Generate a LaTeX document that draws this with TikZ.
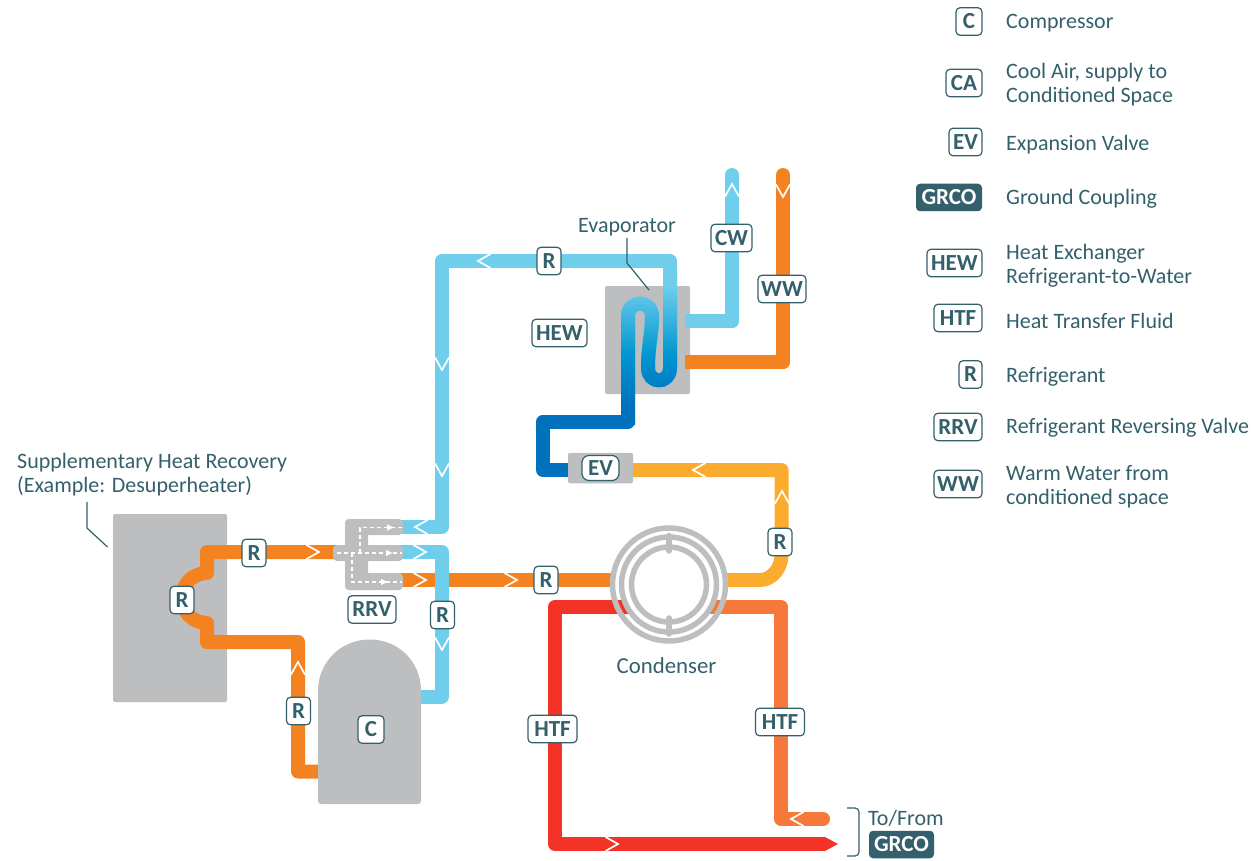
\documentclass[tikz,border=0pt]{standalone}
\usepackage{fontspec}
\setmainfont{Carlito}
\definecolor{teal}{HTML}{33606B}
\definecolor{grey}{HTML}{BCBEC0}
\definecolor{lblue}{HTML}{6FCEEC}
\definecolor{mblue}{HTML}{0095D0}
\definecolor{dblue}{HTML}{0071BC}
\definecolor{orng}{HTML}{F58220}
\definecolor{yel}{HTML}{FBAB2D}
\definecolor{red1}{HTML}{F23325}
\definecolor{red2}{HTML}{F6783B}
\tikzset{
  pipe/.style={line width=14pt,line join=round},
  lbl/.style={text=teal,font=\fontsize{22}{24}\selectfont,inner sep=0pt,align=left,yshift=-1pt},
  tag/.style={draw=teal,line width=1.2pt,fill=white,rounded corners=4pt,inner sep=0pt,text=teal,
    font=\fontsize{23}{24}\selectfont\bfseries,minimum height=27.5pt,minimum width=#1},
  tag/.default=24pt,
  darktag/.style={fill=teal,rounded corners=4pt,inner sep=0pt,text=white,
    font=\fontsize{23}{24}\selectfont\bfseries,minimum height=27.5pt,minimum width=#1},
  leader/.style={draw=teal,line width=1.2pt},
  dash wh/.style={white,line width=1.6pt,dash pattern=on 4pt off 3pt},
}
\newcommand{\chev}[3]{\draw[white,line width=1.7pt,miter limit=10,shift={(#1,#2)},rotate=#3] (12.5,-7) -- (0,0) -- (12.5,7);}
\newcommand{\ddtip}[2]{\fill[white] (#1,#2-3.2) -- (#1+6.5,#2) -- (#1,#2+3.2) -- cycle;}
\newcommand{\coilpath}{(c0) -- (c1) .. controls (628,299.5) and (652,299.5) .. (c2) .. controls (652,335) and (648,345) .. (c3) .. controls (648,384.5) and (670,384.5) .. (c4) -- (c5)}
\begin{document}
\begin{tikzpicture}[x=1pt,y=-1pt]
\useasboundingbox (0,0) rectangle (1255,861);
% coordinates
\coordinate (c0) at (628,430); \coordinate (c1) at (628,316); \coordinate (c2) at (652,316);
\coordinate (c3) at (648,368); \coordinate (c4) at (670,368); \coordinate (c5) at (670,270);
\coordinate (topR) at (670,261); \coordinate (topL) at (442,261); \coordinate (rrvT) at (442,527);
\coordinate (rrvTe) at (400,527); \coordinate (rrvM) at (442,552); \coordinate (rrvMe) at (400,552);
\coordinate (rrvBe) at (400,580); \coordinate (compB) at (442,696.5); \coordinate (compBe) at (415,696.5);
\coordinate (cw0) at (685,321); \coordinate (cw1) at (732,321); \coordinate (cw2) at (732,175);
\coordinate (ww0) at (685,362); \coordinate (ww1) at (783,362); \coordinate (ww2) at (783,175);
\coordinate (d0) at (628,400); \coordinate (d1) at (628,421.5); \coordinate (d2) at (543,421.5);
\coordinate (d3) at (543,470); \coordinate (d4) at (572,470);
\coordinate (y0) at (630,470); \coordinate (y1) at (781.5,470); \coordinate (y2) at (781.5,555);
\coordinate (y3) at (760,580); \coordinate (y4) at (724,580);
\coordinate (o0) at (612,580);
\coordinate (s0) at (350,552); \coordinate (s1) at (207,552); \coordinate (s2) at (207,573);
\coordinate (s3) at (182,598); \coordinate (s4) at (207,623); \coordinate (s5) at (207,642);
\coordinate (s6) at (298,642); \coordinate (s7) at (298,771.5); \coordinate (s8) at (325,771.5);
\coordinate (r0) at (630,607); \coordinate (r1) at (555,607); \coordinate (r2) at (555,844);
\coordinate (r3) at (825,844); \coordinate (rtip) at (838,844);
\coordinate (h0) at (708,607); \coordinate (h1) at (781,607); \coordinate (h2) at (781,819);
\coordinate (h3) at (823,819);
\coordinate (cond) at (669,584.5);
% grey equipment
\node[fill=grey,rounded corners=2pt,minimum width=114pt,minimum height=188pt,inner sep=0pt] (supp) at (170,608) {};
\node[fill=grey,rounded corners=2pt,minimum width=85pt,minimum height=108pt,inner sep=0pt] (hewbox) at (647.5,340) {};
% pipes: light blue, orange, yellow
\draw[pipe,orng] (ww0) -- (ww1) -- (ww2);
\draw[pipe,orng,line cap=round] (ww1) -- (ww2);
\draw[pipe,lblue] (cw0) -- (cw1) -- (cw2);
\draw[pipe,lblue,line cap=round] (cw1) -- (cw2);
\draw[pipe,orng] (s0) -- (s1) -- (s2) .. controls (193,573) and (182,584) .. (s3) .. controls (182,612) and (193,623) .. (s4) -- (s5) -- (s6) -- (s7) -- (s8);
\draw[pipe,orng] (rrvBe) -- (o0);
\draw[pipe,yel] (y0) -- (y1) -- (y2) .. controls (781.5,568) and (772,580) .. (y3) -- (y4);
\draw[pipe,lblue] (c5) -- (topR) -- (topL) -- (rrvT) -- (rrvTe);
\draw[pipe,lblue] (rrvMe) -- (rrvM) -- (compB) -- (compBe);
\draw[pipe,dblue] (d0) -- (d1) -- (d2) -- (d3) -- (d4);
% coil with a vertical colour run
\foreach \i in {0,...,77}{
  \pgfmathsetmacro{\yy}{268+2*\i}
  \pgfmathsetmacro{\pa}{min(100,max(0,(\yy-285)/(355-285)*100))}
  \pgfmathsetmacro{\pb}{min(100,max(0,(\yy-355)/(405-355)*100))}
  \colorlet{sl}{dblue!\pb!mblue}
  \colorlet{sl}{sl!\pa!lblue}
  \begin{scope}
    \clip (600,\yy) rectangle (700,\yy+2.7);
    \draw[pipe,sl] \coilpath;
  \end{scope}
}
% heat transfer loop
\draw[pipe,red1] (r0) -- (r1) -- (r2) -- (r3);
\fill[red1] (825,837) -- (rtip) -- (825,851) -- cycle;
\draw[pipe,red2] (h0) -- (h1) -- (h2) -- (h3);
\fill[red2] (h3) circle (7);
% condenser
\fill[white] (cond) circle (47.5);
\draw[grey,line width=5.5pt] (cond) circle (56.5);
\draw[grey,line width=5.5pt] (cond) circle (47.5);
\draw[grey,line width=5.5pt] (cond) circle (37.5);
\draw[grey,line width=5.5pt,line cap=round] (669,535.5) -- (669,551);
\draw[grey,line width=5.5pt,line cap=round] (669,618) -- (669,634);
% compressor
\fill[grey] (318,691) {[rounded corners=3pt] -- (318,804) -- (421,804)} -- (421,691) .. controls (421,662) and (399,639.5) .. (369.5,639.5) .. controls (341,639.5) and (318,662) .. (318,691) -- cycle;
% expansion valve body
\node[fill=grey,rounded corners=2pt,minimum width=65pt,minimum height=30.5pt,inner sep=0pt] (evbox) at (600.5,468) {};
% reversing valve
\fill[grey,rounded corners=4pt] (345,519) rectangle (368,590);
\fill[grey,rounded corners=4pt] (345,519) rectangle (403,535);
\fill[grey,rounded corners=4pt] (333,545) rectangle (403,561);
\fill[grey,rounded corners=4pt] (345,573) rectangle (403,590);
\draw[dash wh] (402,527.5) -- (360,527.5) -- (360,552);
\draw[dash wh] (337,553) -- (402,553);
\draw[dash wh] (352,553) -- (352,582) -- (402,582);
\ddtip{387}{527.5} \ddtip{386}{553} \ddtip{381}{582}
% chevrons
\chev{478}{261}{0} \chev{442}{370}{90} \chev{442}{476}{90} \chev{442}{650}{90}
\chev{415}{527}{0} \chev{426}{552}{180} \chev{426}{580}{180}
\chev{319}{552}{180} \chev{517}{580}{180} \chev{298}{662}{-90}
\chev{732}{184}{-90} \chev{783}{197}{90} \chev{693}{470}{0} \chev{782}{491}{-90}
\chev{618}{844}{180} \chev{791}{819}{0}
% leaders
\draw[leader] (627,238) -- (627,263) -- (649,290);
\draw[leader] (87,502) -- (87,528) -- (107.5,547);
\draw[leader,rounded corners=4pt] (847,808) -- (859,808) -- (859,856) -- (847,856);
% diagram tags
\node[tag] (r1t) at (254,553) {R};
\node[tag] (r2t) at (182,600) {R};
\node[tag] (r3t) at (298.5,711) {R};
\node[tag] (r4t) at (442.5,615) {R};
\node[tag] (r5t) at (549,261) {R};
\node[tag] (r6t) at (546,580) {R};
\node[tag] (r7t) at (780,542) {R};
\node[tag=41pt] (cwt) at (731.5,238) {CW};
\node[tag=48pt] (wwt) at (782,289) {WW};
\node[tag=37pt,minimum height=25pt,rounded corners=7pt] (evt) at (600.5,468) {EV};
\node[tag=55pt] (hewt) at (559.5,333) {HEW};
\node[tag=26pt] (ct) at (371,729.5) {C};
\node[tag=49pt] (htf1) at (552.5,729) {HTF};
\node[tag=49pt] (htf2) at (780,722) {HTF};
\node[tag=48pt] (rrvt) at (372,609.5) {RRV};
\node[darktag=65pt] (grco2) at (901.5,844.5) {GRCO};
% diagram labels
\node[lbl] (evap) at (627,226) {Evaporator};
\node[lbl,font=\fontsize{22.8}{24}\selectfont] (condl) at (666.5,665) {Condenser};
\node[lbl,anchor=west] (suppl) at (17,474) {Supplementary Heat Recovery\\(Example: Desuperheater)};
\node[lbl,anchor=west] (tofrom) at (868,817) {To/From};
% legend
\node[tag=26pt] (lc) at (969,21.5) {C};
\node[tag=36pt] (lca) at (964,83) {CA};
\node[tag=33pt] (lev) at (965.5,142) {EV};
\node[darktag=66pt] (lg) at (949,197.5) {GRCO};
\node[tag=55pt] (lhew) at (954.5,263) {HEW};
\node[tag=48pt] (lhtf) at (958,318) {HTF};
\node[tag=23pt] (lr) at (970.5,374.5) {R};
\node[tag=48pt] (lrrv) at (958,427) {RRV};
\node[tag=48pt] (lww) at (958,484) {WW};
\node[lbl,anchor=west] (t1) at (1006,22) {Compressor};
\node[lbl,anchor=west] (t2) at (1006,84) {Cool Air, supply to\\Conditioned Space};
\node[lbl,anchor=west] (t3) at (1006,144) {Expansion Valve};
\node[lbl,anchor=west] (t4) at (1006,198) {Ground Coupling};
\node[lbl,anchor=west] (t5) at (1006,265) {Heat Exchanger\\Refrigerant-to-Water};
\node[lbl,anchor=west] (t6) at (1006,320) {Heat Transfer Fluid};
\node[lbl,anchor=west] (t7) at (1006,376) {Refrigerant};
\node[lbl,anchor=west] (t8) at (1006,427) {Refrigerant Reversing Valve};
\node[lbl,anchor=west] (t9) at (1006,486) {Warm Water from\\conditioned space};
\end{tikzpicture}
\end{document}
